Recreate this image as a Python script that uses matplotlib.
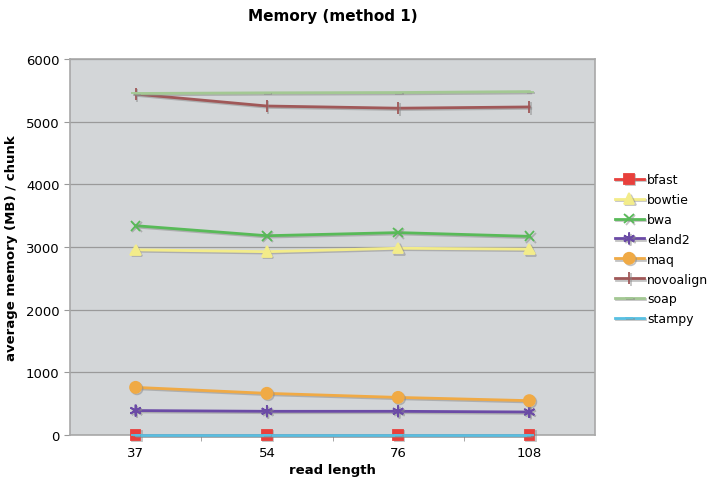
import matplotlib.pyplot as plt
import matplotlib.patheffects as pe

# data
read_lengths = ["37", "54", "76", "108"]
bfast = [5, 5, 5, 5]
bowtie = [2955, 2925, 2980, 2965]
bwa = [3340, 3180, 3230, 3170]
eland2 = [390, 378, 378, 367]
maq = [760, 665, 600, 548]
novoalign = [5440, 5250, 5215, 5235]
soap = [5450, 5460, 5465, 5480]
stampy = [0, 0, 0, 0]

series = [
    ("bfast", bfast, "#E8403C", "s", 7),
    ("bowtie", bowtie, "#F3EC8A", "^", 7.5),
    ("bwa", bwa, "#58BA58", "x", 7),
    ("eland2", eland2, "#6B4BA6", (6, 2, 0), 8.5),
    ("maq", maq, "#F0AA45", "o", 8),
    ("novoalign", novoalign, "#A05858", "|", 9),
    ("soap", soap, "#A3C893", "_", 6),
    ("stampy", stampy, "#58C0E2", "_", 6),
]

plt.rcParams['font.family'] = ['DejaVu Sans']

fig = plt.figure(figsize=(7.18, 4.85), dpi=100)
ax = fig.add_axes([70 / 718, 49 / 485, 525 / 718, 376 / 485])
ax.set_facecolor("#D3D6D8")

x = list(range(len(read_lengths)))
shadow = [pe.SimpleLineShadow(offset=(1.0, -1.0), shadow_color="#888888", alpha=0.5), pe.Normal()]
for name, vals, color, marker, ms in series:
    ax.plot(x, vals, color=color, lw=2.0, marker=marker, markersize=ms,
            markeredgewidth=1.3, markeredgecolor=color, label=name,
            path_effects=shadow, clip_on=False, zorder=3)

ax.set_xlim(-0.5, 3.5)
ax.set_ylim(0, 6000)
ax.set_yticks(range(0, 6001, 1000))
ax.set_xticks(x)
ax.set_xticklabels(read_lengths)
ax.set_xticks([0.5, 1.5, 2.5], minor=True)
ax.tick_params(axis="x", which="major", length=0, labelsize=9.5, pad=8)
ax.tick_params(axis="x", which="minor", length=4, color="#999999")
ax.tick_params(axis="y", length=4, color="#999999", labelsize=9.5)
ax.yaxis.grid(True, color="#9A9A9A", lw=0.9)
ax.set_axisbelow(True)
for s in ax.spines.values():
    s.set_color("#A8A8A8")
    s.set_linewidth(1.2)

ax.set_title("Memory (method 1)", fontsize=11, fontweight="bold", pad=28)
ax.set_xlabel("read length", fontsize=9.5, fontweight="bold", labelpad=3)
ax.set_ylabel("average memory (MB) / chunk", fontsize=9.5, fontweight="bold", labelpad=6)

leg = fig.legend(loc="center left", bbox_to_anchor=(606 / 718, 0.484), frameon=False,
                 fontsize=9, handlelength=2.3, labelspacing=0.55, handletextpad=0.3,
                 borderpad=0.2)

fig.savefig("out.png", dpi=100)
